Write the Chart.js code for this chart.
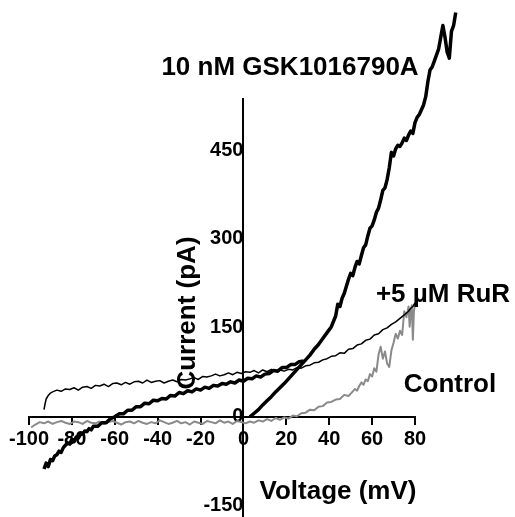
<!DOCTYPE html>
<html><head><meta charset="utf-8">
<script src="https://cdn.jsdelivr.net/npm/chart.js@4.4.0/dist/chart.umd.min.js"></script>
<style>html,body{margin:0;padding:0;background:#fff;}canvas{display:block;}</style>
</head><body>
<canvas id="c" width="515" height="517"></canvas>
<script>
// ---- data (voltage in mV, current in pA) ----
const xTicks = [-100,-80,-60,-40,-20,0,20,40,60,80];
const yTicks = [-150,0,150,300,450];

const ctlV = [-99,-97,-95,-93,-91,-89,-87,-85,-83,-81,-79,-77,-75,-73,-71,-69,-67,-65,-63,-61,-59,-57,-55,-53,-51,-49,-47,-45,-43,-41,-39,-37,-35,-33,-31,-29,-27,-25,-23,-21,-19,-17,-15,-13,-11,-9,-7,-5,-3,-1,1,3,5,7,9,11,13,15,17,19,21,23,25,27,29,31,33,35,37,39,41,43,45,47,49,51,52,53,54,55,56,57,58,59,60,61,62,63,64,65,66,67,68,69,70,71,72,73,74,75,76,77,77.5,78,78.5,79,79.5,80];
const ctlI = [-18,-13,-9,-11,-8,-12,-9,-7,-10,-12,-8,-9,-12,-7,-10,-11,-8,-12,-9,-7,-10,-13,-9,-8,-11,-7,-10,-12,-9,-11,-6,-9,-12,-10,-7,-11,-9,-13,-8,-10,-12,-7,-9,-11,-6,-10,-8,-12,-7,-9,-11,-8,-10,-6,-8,-4,-7,-2,-5,-1,-3,2,1,6,7,12,11,17,18,24,25,29,30,37,35,43,47,44,52,58,54,63,60,72,68,82,76,105,118,98,110,90,84,112,125,140,132,145,138,178,168,186,152,175,188,130,178,190];

const rurV = [-93,-92.5,-92,-91,-90,-89,-87,-85,-83,-81,-79,-77,-75,-73,-71,-69,-67,-65,-63,-61,-59,-57,-55,-53,-51,-49,-47,-45,-43,-41,-39,-37,-35,-33,-31,-29,-27,-25,-23,-21,-19,-17,-15,-13,-11,-9,-7,-5,-3,-1,1,3,5,7,9,11,13,15,17,19,21,23,25,27,29,31,33,35,37,39,41,43,45,47,49,51,53,55,57,59,61,63,65,67,69,71,73,75,77,78,79,80];
const rurI = [12,22,30,36,40,42,45,43,47,46,49,45,50,51,48,53,52,55,51,56,57,54,58,55,59,60,57,62,58,60,61,57,60,62,59,63,62,64,66,63,68,67,69,72,69,71,74,71,75,73,76,75,78,74,79,76,80,78,79,77,80,79,83,82,86,87,91,92,96,98,102,103,108,107,114,115,121,123,129,131,138,140,147,150,156,160,166,172,178,183,186,192];

const gskNegV = [-93,-92,-91,-90,-89,-88,-87,-86,-85,-84,-83,-82,-81,-80,-79,-78,-77,-76,-75,-74,-73,-72,-71,-70,-68,-66,-64,-62,-60,-58,-56,-54,-52,-50,-48,-46,-44,-42,-40,-38,-36,-34,-32,-30,-28,-26,-24,-22,-20,-18,-16,-14,-12,-10,-8,-6,-4,-2,0,2,4,6,8,10,12,14,16,18,20,22,24,26,28];
const gskNegI = [-88,-78,-84,-72,-74,-66,-64,-58,-60,-52,-48,-44,-46,-38,-42,-34,-36,-30,-29,-24,-25,-20,-22,-16,-16,-10,-10,-3,0,5,5,11,11,17,17,23,22,28,27,31,30,36,35,41,39,44,42,47,45,50,48,53,52,56,55,59,57,62,60,65,64,69,67,72,73,78,77,83,83,88,88,93,94];

const gskV = [3,5,7,9,11,13,15,17,19,21,23,25,27,29,31,33,35,37,39,41,43,44,45,46,47,48,49,50,51,52,53,54,55,56,57,58,59,60,61,62,63,64,65,66,67,68,69,70,71,72,73,74,75,76,77,78,79,80,81,82,83,84,85,86,87,88,89,90,91,92,93,94,95,96,97,98,99];
const gskI = [0,6,12,20,27,34,42,49,56,64,72,80,88,96,104,114,122,132,142,152,170,190,186,200,208,220,232,242,238,252,262,258,272,285,290,305,318,322,332,345,352,366,382,386,400,420,446,440,452,458,456,462,470,466,475,482,478,496,505,510,518,526,540,565,585,590,600,610,620,640,660,640,615,605,650,660,682];

const pts = (vs, is) => vs.map((v, i) => ({x: v, y: is[i]}));

const FONT = "'Liberation Sans', Arial, Helvetica, sans-serif";

const textPlugin = {
  id: 'textLabels',
  afterDraw(chart) {
    const ctx = chart.ctx;
    ctx.save();
    ctx.fillStyle = '#000';
    ctx.font = 'bold 26px ' + FONT;
    ctx.textAlign = 'center';
    ctx.textBaseline = 'alphabetic';
    ctx.fillText('10 nM GSK1016790A', 290, 75);
    ctx.fillText('+5 \u00B5M RuR', 443, 302);
    ctx.fillText('Control', 450, 392);
    ctx.fillText('Voltage (mV)', 338, 499);
    ctx.translate(195, 313);
    ctx.rotate(-Math.PI / 2);
    ctx.fillText('Current (pA)', 0, 0);
    ctx.restore();
  }
};

const noPad = s => { s.paddingTop = 0; s.paddingBottom = 0; s.paddingLeft = 0; s.paddingRight = 0; };

new Chart(document.getElementById('c'), {
  type: 'line',
  data: {
    datasets: [
      {label: '10 nM GSK1016790A', data: pts(gskV, gskI), borderColor: '#000', borderWidth: 3.5},
      {label: '10 nM GSK1016790A (negative limb)', data: pts(gskNegV, gskNegI), borderColor: '#000', borderWidth: 3.5},
      {label: '+5 \u00B5M RuR', data: pts(rurV, rurI), borderColor: '#000', borderWidth: 1.5},
      {label: 'Control', data: pts(ctlV, ctlI), borderColor: '#8a8a8a', borderWidth: 2}
    ]
  },
  options: {
    responsive: false,
    animation: false,
    devicePixelRatio: 1,
    layout: {padding: {left: 29, right: 100, top: 99, bottom: 0}},
    elements: {point: {radius: 0}, line: {tension: 0, borderJoinStyle: 'round'}},
    datasets: {line: {clip: false, fill: false}},
    plugins: {legend: {display: false}, tooltip: {enabled: false}},
    scales: {
      x: {
        type: 'linear',
        position: {y: 0},
        bounds: 'data',
        afterDataLimits: s => { s.min = xTicks[0]; s.max = xTicks[xTicks.length - 1]; },
        afterBuildTicks: s => { s.ticks = xTicks.map(v => ({value: v})); },
        afterFit: noPad,
        grid: {display: true, drawOnChartArea: false, drawTicks: true, tickLength: 7, color: '#000', lineWidth: 2},
        border: {display: true, color: '#000', width: 2},
        ticks: {color: '#000', font: {family: FONT, size: 20, weight: 'bold'}, padding: 4, maxRotation: 0, autoSkip: false}
      },
      y: {
        type: 'linear',
        position: {x: 0},
        min: -169,
        max: 536,
        bounds: 'data',
        afterBuildTicks: s => { s.ticks = yTicks.map(v => ({value: v})); },
        afterFit: noPad,
        grid: {display: false, drawTicks: false},
        border: {display: true, color: '#000', width: 2},
        ticks: {color: '#000', font: {family: FONT, size: 20, weight: 'bold'}, padding: 0, autoSkip: false}
      }
    }
  },
  plugins: [textPlugin]
});
</script>
</body></html>
